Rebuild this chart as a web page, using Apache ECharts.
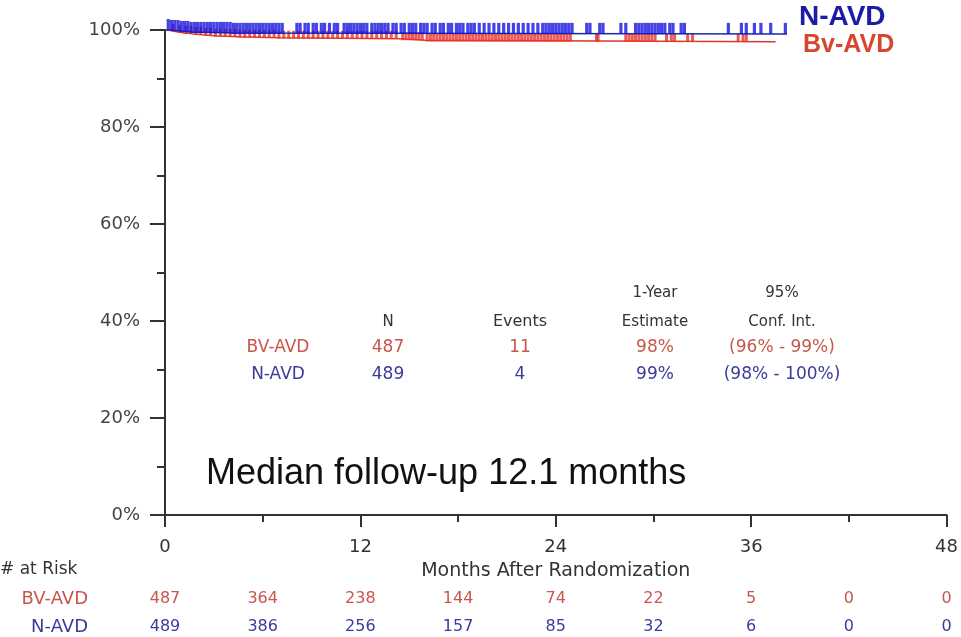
<!DOCTYPE html>
<html>
<head>
<meta charset="utf-8">
<script src="https://cdn.jsdelivr.net/npm/echarts@6/dist/echarts.min.js"></script>
<style>
  html, body { margin: 0; padding: 0; background: #fff; }
  #km { width: 961px; height: 637px; }
</style>
</head>
<body>
<div id="km"></div>
<script>
  // Kaplan-Meier steps (months, survival %)
  const nTimes = [0, 0.3, 0.9, 1.6, 4.2, 38.2];
  const nSurv = [100, 99.8, 99.6, 99.4, 99.2, 99.2];
  const bvTimes = [0, 0.2, 0.5, 0.8, 1.2, 1.7, 2.3, 3.0, 4.5, 7.0, 14.4, 16.0, 37.5];
  const bvSurv = [100, 99.8, 99.6, 99.4, 99.2, 99.0, 98.8, 98.6, 98.4, 98.2, 97.9, 97.6, 97.6];

  // censor marks (months)
  const nCensor = [0.2, 0.4, 0.6, 0.8, 1.0, 1.2, 1.4, 1.6, 1.8, 2.0, 2.2, 2.4, 2.6, 2.8, 3.0, 3.2, 3.4,
    3.6, 3.8, 4.0, 4.2, 4.4, 4.6, 4.8, 5.0, 5.2, 5.4, 5.6, 5.8, 6.0, 6.2, 6.4, 6.6, 6.8, 7.0, 7.2,
    8.1, 8.3, 8.6, 8.8, 9.1, 9.3, 9.6, 9.8, 10.1, 10.4, 10.6, 11.0, 11.2, 11.4, 11.6, 11.8, 12.0, 12.2,
    12.4, 12.7, 12.9, 13.1, 13.3, 13.5, 13.7, 14.0, 14.2, 14.5, 14.7, 15.0, 15.2, 15.4, 15.7, 15.9, 16.1,
    16.4, 16.6, 16.9, 17.1, 17.4, 17.6, 17.9, 18.1, 18.3, 18.6, 18.8, 19.0, 19.3, 19.6, 19.9, 20.2, 20.5,
    20.8, 21.1, 21.4, 21.7, 22.0, 22.3, 22.6, 22.9, 23.2, 23.4, 23.6, 23.8, 24.0, 24.2, 24.4, 24.6, 24.8,
    25.0, 25.9, 26.1, 26.7, 26.9, 28.0, 28.3, 28.9, 29.1, 29.3, 29.5, 29.7, 29.9, 30.1, 30.3, 30.5, 30.7,
    31.0, 31.2, 31.7, 31.9, 34.6, 35.4, 35.7, 36.2, 36.6, 37.2, 38.1];
  const bvCensor = [0.5, 0.9, 1.3, 1.6, 1.9, 2.2, 2.5, 2.8, 3.1, 3.4, 3.7, 4.0, 4.3, 4.6, 4.9, 5.2, 5.5,
    5.8, 6.1, 6.4, 6.7, 7.0, 7.3, 7.6, 7.9, 8.2, 8.5, 8.8, 9.1, 9.4, 9.7, 10.0, 10.3, 10.6, 10.9, 11.2,
    11.5, 11.8, 12.1, 12.4, 12.7, 13.0, 13.3, 13.6, 13.9, 14.2, 14.6, 14.8, 15.0, 15.2, 15.4, 15.6, 15.8,
    16.1, 16.3, 16.5, 16.7, 16.9, 17.1, 17.3, 17.5, 17.7, 17.9, 18.1, 18.3, 18.5, 18.7, 18.9, 19.1, 19.3,
    19.5, 19.7, 19.9, 20.1, 20.3, 20.5, 20.7, 20.9, 21.1, 21.3, 21.5, 21.7, 21.9, 22.1, 22.3, 22.5, 22.7,
    22.9, 23.1, 23.3, 23.5, 23.7, 23.9, 24.1, 24.3, 24.5, 24.7, 24.9, 26.5, 26.6, 28.3, 28.5, 28.7, 28.9,
    29.1, 29.3, 29.5, 29.7, 29.9, 30.1, 30.8, 31.1, 31.3, 32.1, 32.4, 35.2, 35.5, 35.7];

  // number at risk every 6 months
  const riskMonths = [0, 6, 12, 18, 24, 30, 36, 42, 48];
  const bvAtRisk = [487, 364, 238, 144, 74, 22, 5, 0, 0];
  const nAtRisk = [489, 386, 256, 157, 85, 32, 6, 0, 0];

  // summary table
  const tableArms = ['BV-AVD', 'N-AVD'];
  const tableN = ['487', '489'];
  const tableEvents = ['11', '4'];
  const tableEstimate = ['98%', '99%'];
  const tableCI = ['(96% - 99%)', '(98% - 100%)'];

  const RED = '#d8392b';
  const RED_TXT = '#c9564c';
  const BLUE = '#1c2a9c';
  const BLUE_TICK = '#1414e0';
  const BLUE_TXT = '#3b3b9c';
  const AXIS = '#333';
  const FONT = '"DejaVu Sans", Verdana, sans-serif';
  const ARIAL = '"Liberation Sans", Arial, sans-serif';

  function survAt(times, surv, t) {
    let s = surv[0];
    for (let i = 0; i < times.length; i++) {
      if (times[i] <= t) s = surv[i];
    }
    return s;
  }

  const nLine = nTimes.map((t, i) => [t, nSurv[i]]);
  const bvLine = bvTimes.map((t, i) => [t, bvSurv[i]]);
  const nMarks = nCensor.map((t) => [t, survAt(nTimes, nSurv, t)]);
  const bvMarks = bvCensor.map((t) => [t, survAt(bvTimes, bvSurv, t)]);

  function riskAxis(values, color, offset) {
    return {
      type: 'value',
      gridIndex: 0,
      position: 'bottom',
      offset: offset,
      min: 0,
      max: 48,
      interval: 6,
      axisLine: { show: false },
      axisTick: { show: false },
      splitLine: { show: false },
      axisLabel: {
        margin: 8,
        color: color,
        fontSize: 16,
        fontFamily: FONT,
        showMinLabel: true,
        showMaxLabel: true,
        formatter: (v) => String(values[riskMonths.indexOf(v)])
      }
    };
  }

  const graphics = [];
  function txt(x, y, text, color, font, align) {
    graphics.push({
      type: 'text',
      x: x,
      y: y,
      style: {
        text: text,
        fill: color,
        font: font,
        align: align || 'center',
        verticalAlign: 'middle'
      }
    });
  }

  const option = {
    animation: false,
    backgroundColor: '#fff',
    grid: { left: 165, right: 13, top: 30, bottom: 122 },
    xAxis: [
      {
        type: 'value',
        min: 0,
        max: 48,
        interval: 12,
        name: 'Months After Randomization',
        nameLocation: 'middle',
        nameGap: 47,
        nameTextStyle: { color: '#333', fontSize: 19, fontFamily: FONT },
        axisLine: { lineStyle: { color: AXIS, width: 2 } },
        axisTick: { length: 12, lineStyle: { color: AXIS, width: 2 } },
        minorTick: { show: true, splitNumber: 2, length: 7, lineStyle: { color: AXIS, width: 2 } },
        splitLine: { show: false },
        axisLabel: { margin: 23, fontSize: 18, color: '#333', fontFamily: FONT }
      },
      riskAxis(bvAtRisk, RED_TXT, 68),
      riskAxis(nAtRisk, BLUE_TXT, 96)
    ],
    yAxis: {
      type: 'value',
      min: 0,
      max: 100,
      interval: 20,
      axisLine: { show: true, lineStyle: { color: AXIS, width: 2 } },
      axisTick: { show: true, length: 15, lineStyle: { color: AXIS, width: 2 } },
      minorTick: { show: true, splitNumber: 2, length: 8, lineStyle: { color: AXIS, width: 2 } },
      splitLine: { show: false },
      axisLabel: { margin: 25, fontSize: 18, color: '#444', fontFamily: FONT, formatter: '{value}%' }
    },
    series: [
      {
        name: 'Bv-AVD',
        type: 'line',
        step: 'end',
        data: bvLine,
        showSymbol: false,
        lineStyle: { color: RED, width: 1.5 },
        z: 2
      },
      {
        type: 'scatter',
        data: bvMarks,
        symbol: 'rect',
        symbolSize: [3, 8],
        symbolOffset: [0, -4],
        itemStyle: { color: '#e8332a' },
        silent: true,
        z: 2
      },
      {
        name: 'N-AVD',
        type: 'line',
        step: 'end',
        data: nLine,
        showSymbol: false,
        lineStyle: { color: BLUE, width: 1.5 },
        z: 3
      },
      {
        type: 'scatter',
        data: nMarks,
        symbol: 'rect',
        symbolSize: [3.2, 11],
        symbolOffset: [0, -5.5],
        itemStyle: { color: BLUE_TICK },
        silent: true,
        z: 3
      }
    ],
    graphic: graphics
  };

  // legend at curve ends
  txt(799, 17, 'N-AVD', '#1b1ba6', 'bold 28px ' + ARIAL, 'left');
  txt(803, 45, 'Bv-AVD', '#d9462f', 'bold 25px ' + ARIAL, 'left');

  // summary table
  const tableCols = [278, 388, 520, 655, 782];
  const hdr = '15px ' + FONT;
  txt(tableCols[3], 293, '1-Year', '#333', hdr);
  txt(tableCols[4], 293, '95%', '#333', hdr);
  txt(tableCols[1], 322, 'N', '#333', hdr);
  txt(tableCols[2], 322, 'Events', '#333', '16px ' + FONT);
  txt(tableCols[3], 322, 'Estimate', '#333', hdr);
  txt(tableCols[4], 322, 'Conf. Int.', '#333', hdr);
  const rowColors = [RED_TXT, BLUE_TXT];
  const rowFont = '17px ' + FONT;
  [348, 375].forEach((y, i) => {
    txt(tableCols[0], y, tableArms[i], rowColors[i], rowFont);
    txt(tableCols[1], y, tableN[i], rowColors[i], rowFont);
    txt(tableCols[2], y, tableEvents[i], rowColors[i], rowFont);
    txt(tableCols[3], y, tableEstimate[i], rowColors[i], rowFont);
    txt(tableCols[4], y, tableCI[i], rowColors[i], rowFont);
  });

  // follow-up note
  txt(206, 474, 'Median follow-up 12.1 months', '#111', '36px ' + ARIAL, 'left');

  // at-risk row labels
  txt(0, 570, '# at Risk', '#333', '17px ' + FONT, 'left');
  txt(88, 599, 'BV-AVD', RED_TXT, '18px ' + FONT, 'right');
  txt(88, 627, 'N-AVD', BLUE_TXT, '18px ' + FONT, 'right');

  const chart = echarts.init(document.getElementById('km'));
  chart.setOption(option);
</script>
</body>
</html>
